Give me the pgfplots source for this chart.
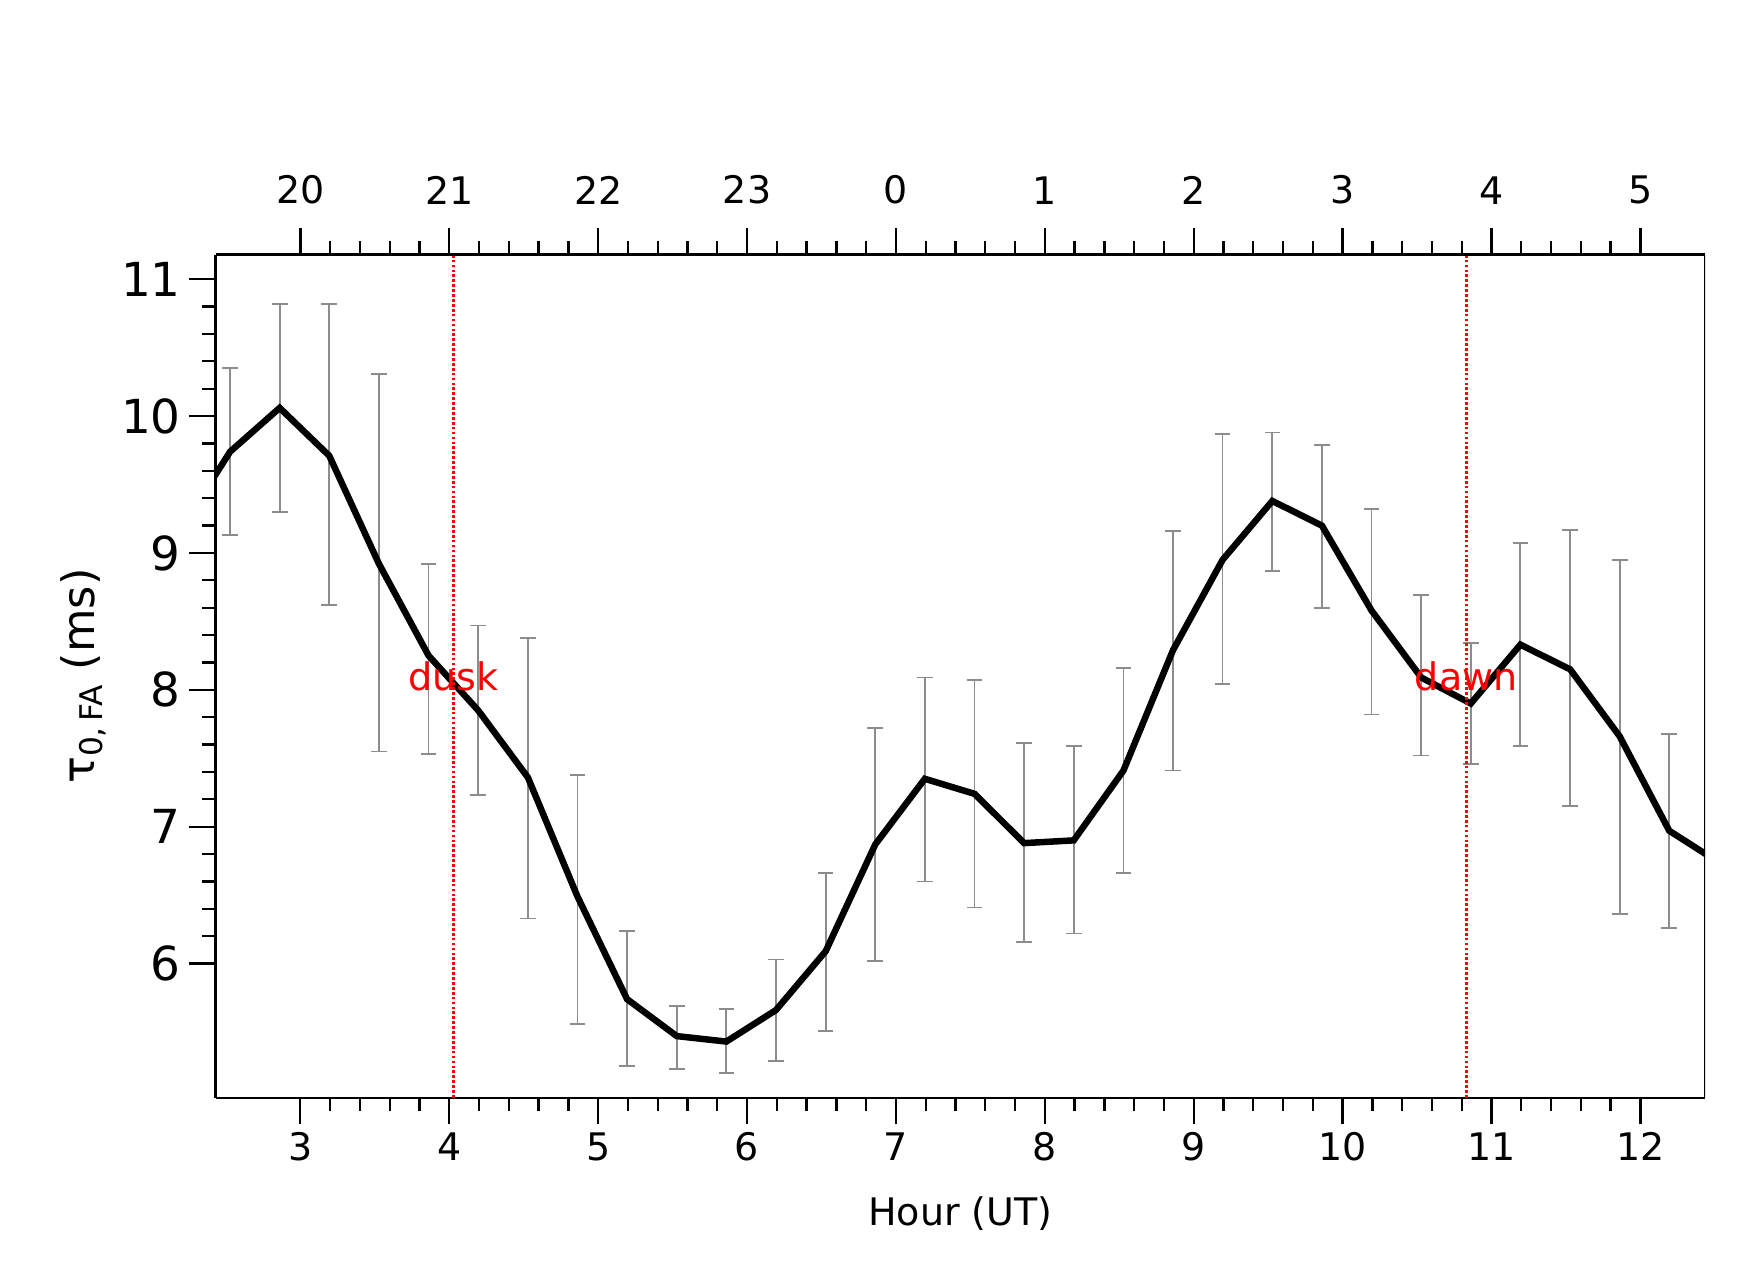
\documentclass[border=0pt]{standalone}
\usepackage{pgfplots}
\pgfplotsset{compat=1.18}
\usepackage{fontspec}
\setmainfont{DejaVu Sans}
\begin{document}
\begin{tikzpicture}
\useasboundingbox (-96.5pt,-82.5pt) rectangle (683.5pt,491.5pt);
\pgfplotsset{every axis/.append style={
  scale only axis, width=667pt, height=377.5pt,
  xmin=2.43, xmax=12.435,
  /pgf/number format/assume math mode=true,
  tick align=outside, major tick length=12pt, minor tick length=6pt,
  every tick/.style={black, line width=1pt}, axis line style={line width=1pt},
  minor x tick num=4}}
\begin{axis}[
  ymin=5.02, ymax=11.18,
  axis x line*=bottom, axis y line*=left,
  xtick={3,...,12}, ytick={6,...,11}, minor y tick num=4,
  xticklabel style={font=\fontsize{17}{20}\selectfont},
  yticklabel style={font=\fontsize{21}{24}\selectfont},
  xlabel={Hour (UT)}, xlabel style={font=\fontsize{17}{20}\selectfont, yshift=-9pt},
  ylabel={τ\textsubscript{0,\,FA} (ms)}, ylabel style={font=\fontsize{20}{24}\selectfont},
  clip=true]
\addplot[gray, mark=none, draw=none,
  error bars/.cd, y dir=both, y explicit,
  error bar style={gray!90, line width=0.8pt},
  error mark options={rotate=90, mark size=3.5pt, gray!90, line width=0.8pt}]
 table[x=x, y=y, y error plus=ep, y error minus=em] {
x y ep em
2.528 9.74 0.61 0.61
2.861 10.06 0.76 0.76
3.194 9.71 1.11 1.09
3.528 8.92 1.39 1.37
3.861 8.25 0.67 0.72
4.194 7.85 0.62 0.62
4.528 7.36 1.02 1.03
4.861 6.49 0.89 0.93
5.194 5.74 0.50 0.49
5.528 5.47 0.22 0.24
5.861 5.43 0.24 0.23
6.194 5.66 0.37 0.37
6.528 6.09 0.57 0.58
6.861 6.87 0.85 0.85
7.194 7.35 0.74 0.75
7.528 7.24 0.83 0.83
7.861 6.88 0.73 0.72
8.194 6.90 0.69 0.68
8.528 7.41 0.75 0.75
8.861 8.29 0.87 0.88
9.194 8.95 0.92 0.91
9.528 9.38 0.50 0.51
9.861 9.20 0.59 0.60
10.194 8.58 0.74 0.76
10.528 8.09 0.60 0.57
10.861 7.90 0.44 0.44
11.194 8.33 0.74 0.74
11.528 8.15 1.02 1.00
11.861 7.66 1.29 1.30
12.194 6.97 0.71 0.71
};
\addplot[black, line width=2.9pt, mark=none] table[x=x,y=y] {
x y
2.195 9.17
2.528 9.74
2.861 10.06
3.194 9.71
3.528 8.92
3.861 8.25
4.194 7.85
4.528 7.36
4.861 6.49
5.194 5.74
5.528 5.47
5.861 5.43
6.194 5.66
6.528 6.09
6.861 6.87
7.194 7.35
7.528 7.24
7.861 6.88
8.194 6.90
8.528 7.41
8.861 8.29
9.194 8.95
9.528 9.38
9.861 9.20
10.194 8.58
10.528 8.09
10.861 7.90
11.194 8.33
11.528 8.15
11.861 7.66
12.194 6.97
12.54 6.73
};
\addplot[red, densely dotted, line width=1.2pt] coordinates {(4.028,5.02) (4.028,11.18)};
\addplot[red, densely dotted, line width=1.2pt] coordinates {(10.83,5.02) (10.83,11.18)};
\node[red, font=\fontsize{17}{20}\selectfont] at (axis cs:4.028,8.1) {dusk};
\node[red, font=\fontsize{17}{20}\selectfont] at (axis cs:10.83,8.1) {dawn};
\draw[line width=1pt] (rel axis cs:1,0) -- (rel axis cs:1,1);
\end{axis}
\begin{axis}[
  ymin=0, ymax=1, axis x line*=top, axis y line=none,
  xtick={3,...,12}, xticklabels={20,21,22,23,0,1,2,3,4,5},
  xticklabel style={font=\fontsize{17}{20}\selectfont, yshift=7pt}]
\node[font=\fontsize{17}{20}\selectfont] at ([xshift=53.5pt,yshift=50.5pt]rel axis cs:0,1) {2026/07/26};
\node[font=\fontsize{17}{20}\selectfont] at ([yshift=52.5pt]rel axis cs:0.5,1) {Hour (MST)};
\node[font=\fontsize{17}{20}\selectfont] at ([yshift=74pt]rel axis cs:0.5,1) {τ\textsubscript{0,\,FA} - Temporal evolution - integrated in [600-20000]m};
\end{axis}
\end{tikzpicture}
\end{document}
